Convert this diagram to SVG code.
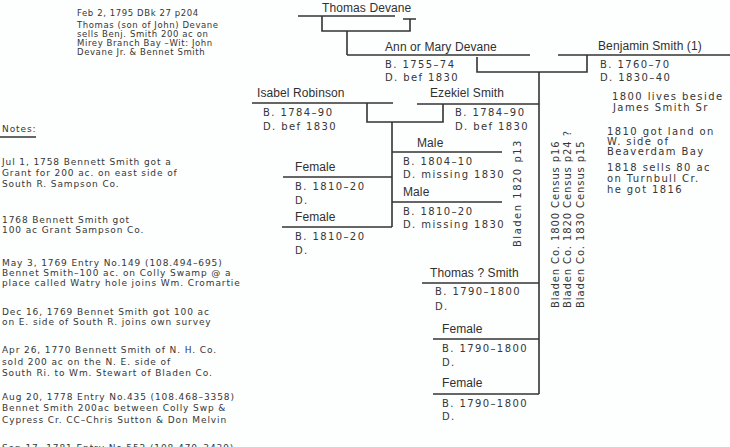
<svg xmlns="http://www.w3.org/2000/svg" width="730" height="447" viewBox="0 0 730 447">
<style>
.t{font-family:"DejaVu Sans",sans-serif;font-size:10px;letter-spacing:1.4px;fill:#363636}
.s{font-family:"DejaVu Sans",sans-serif;font-size:9px;letter-spacing:0.9px;fill:#363636}
.p{font-family:"DejaVu Sans",sans-serif;font-size:8.5px;letter-spacing:0.6px;fill:#363636}
.v{font-family:"DejaVu Sans",sans-serif;font-size:10px;letter-spacing:0.9px;fill:#363636}
.n{font-family:"Liberation Sans",Arial,sans-serif;font-size:12px;letter-spacing:0.1px;fill:#303030}
.l{stroke:#333;stroke-width:1.6;fill:none}
</style>
<rect width="730" height="447" fill="#fdfefe"/>
<g id="note-top">
<text class="p" x="77" y="16">Feb 2, 1795 DBk 27 p204</text>
<text class="p" x="77" y="28">Thomas (son of John) Devane</text>
<text class="p" x="77" y="37">sells Benj. Smith 200 ac on</text>
<text class="p" x="77" y="46">Mirey Branch Bay –Wit: John</text>
<text class="p" x="77" y="55">Devane Jr. &amp; Bennet Smith</text>
</g>
<g id="notes">
<text class="s" x="2" y="132">Notes:</text>
<line class="l" x1="0" y1="137" x2="36" y2="137"/>
<text class="s" x="2" y="165">Jul 1, 1758 Bennett Smith got a</text>
<text class="s" x="2" y="176">Grant for 200 ac. on east side of</text>
<text class="s" x="2" y="187">South R. Sampson Co.</text>
<text class="s" x="2" y="223">1768 Bennett Smith got</text>
<text class="s" x="2" y="233">100 ac Grant Sampson Co.</text>
<text class="s" x="2" y="266">May 3, 1769 Entry No.149 (108.494–695)</text>
<text class="s" x="2" y="276">Bennet Smith–100 ac. on Colly Swamp @ a</text>
<text class="s" x="2" y="286">place called Watry hole joins Wm. Cromartie</text>
<text class="s" x="2" y="315">Dec 16, 1769 Bennet Smith got 100 ac</text>
<text class="s" x="2" y="325">on E. side of South R. joins own survey</text>
<text class="s" x="2" y="353">Apr 26, 1770 Bennett Smith of N. H. Co.</text>
<text class="s" x="2" y="365">sold 200 ac on the N. E. side of</text>
<text class="s" x="2" y="376">South Ri. to Wm. Stewart of Bladen Co.</text>
<text class="s" x="2" y="400">Aug 20, 1778 Entry No.435 (108.468–3358)</text>
<text class="s" x="2" y="411">Bennet Smith 200ac between Colly Swp &amp;</text>
<text class="s" x="2" y="423">Cypress Cr. CC–Chris Sutton &amp; Don Melvin</text>
<text class="s" x="2" y="451">Sep 17, 1781 Entry No.552 (108.470–3439)</text>
</g>
<g id="connectors" class="l">
<path d="M322,16 V31 H410 V19 M403,19 H416"/>
<path d="M347,31 V55"/>
<path d="M477,57 V72 H587 V55"/>
<path d="M539,72 V394"/>
<path d="M367,103 V122 H443 V104"/>
<path d="M392,122 V227"/>
</g>
<g id="thomas-devane">
<text class="n" x="322" y="12">Thomas Devane</text>
<line class="l" x1="298" y1="16" x2="395" y2="16"/>
</g>
<g id="ann-devane">
<text class="n" x="385" y="51">Ann or Mary Devane</text>
<line class="l" x1="347" y1="55" x2="530" y2="55"/>
<text class="t" x="385" y="68">B. 1755–74</text>
<text class="t" x="385" y="81">D. bef 1830</text>
</g>
<g id="benjamin-smith">
<text class="n" x="598" y="50">Benjamin Smith (1)</text>
<line class="l" x1="558" y1="55" x2="730" y2="55"/>
<text class="t" x="600" y="68">B. 1760–70</text>
<text class="t" x="600" y="81">D. 1830–40</text>
<text class="t" x="612" y="100">1800 lives beside</text>
<text class="t" x="613" y="111">James Smith Sr</text>
<text class="t" x="607" y="135">1810 got land on</text>
<text class="t" x="607" y="145">W. side of</text>
<text class="t" x="607" y="155">Beaverdam Bay</text>
<text class="t" x="607" y="171">1818 sells 80 ac</text>
<text class="t" x="607" y="182">on Turnbull Cr.</text>
<text class="t" x="607" y="193">he got 1816</text>
</g>
<g id="census">
<text class="v" transform="translate(559,308) rotate(-90)">Bladen Co. 1800 Census p16</text>
<text class="v" transform="translate(571,308) rotate(-90)">Bladen Co. 1820 Census p24 ?</text>
<text class="v" transform="translate(584,308) rotate(-90)">Bladen Co. 1830 Census p15</text>
<text class="v" style="letter-spacing:1.5px" transform="translate(521,247) rotate(-90)">Bladen 1820 p13</text>
</g>
<g id="isabel-robinson">
<text class="n" x="257" y="97">Isabel Robinson</text>
<line class="l" x1="252" y1="103" x2="393" y2="103"/>
<text class="t" x="263" y="116">B. 1784–90</text>
<text class="t" x="263" y="130">D. bef 1830</text>
</g>
<g id="ezekiel-smith">
<text class="n" x="430" y="97">Ezekiel Smith</text>
<line class="l" x1="417" y1="104" x2="539" y2="104"/>
<text class="t" x="455" y="116">B. 1784–90</text>
<text class="t" x="455" y="130">D. bef 1830</text>
</g>
<g id="male-1">
<text class="n" x="417" y="147">Male</text>
<line class="l" x1="392" y1="152" x2="502" y2="152"/>
<text class="t" x="403" y="165">B. 1804–10</text>
<text class="t" x="403" y="178">D. missing 1830</text>
</g>
<g id="male-2">
<text class="n" x="403" y="196">Male</text>
<line class="l" x1="392" y1="202" x2="502" y2="202"/>
<text class="t" x="403" y="215">B. 1810–20</text>
<text class="t" x="403" y="228">D. missing 1830</text>
</g>
<g id="female-1">
<text class="n" x="295" y="171">Female</text>
<line class="l" x1="283" y1="177" x2="392" y2="177"/>
<text class="t" x="295" y="190">B. 1810–20</text>
<text class="t" x="295" y="204">D.</text>
</g>
<g id="female-2">
<text class="n" x="295" y="221">Female</text>
<line class="l" x1="282" y1="227" x2="392" y2="227"/>
<text class="t" x="295" y="240">B. 1810–20</text>
<text class="t" x="295" y="254">D.</text>
</g>
<g id="thomas-smith">
<text class="n" x="430" y="277">Thomas ? Smith</text>
<line class="l" x1="422" y1="283" x2="539" y2="283"/>
<text class="t" x="435" y="295">B. 1790–1800</text>
<text class="t" x="435" y="310">D.</text>
</g>
<g id="female-3">
<text class="n" x="442" y="333">Female</text>
<line class="l" x1="433" y1="339" x2="539" y2="339"/>
<text class="t" x="442" y="352">B. 1790–1800</text>
<text class="t" x="442" y="366">D.</text>
</g>
<g id="female-4">
<text class="n" x="442" y="387">Female</text>
<line class="l" x1="433" y1="394" x2="539" y2="394"/>
<text class="t" x="442" y="407">B. 1790–1800</text>
<text class="t" x="442" y="420">D.</text>
</g>
</svg>
